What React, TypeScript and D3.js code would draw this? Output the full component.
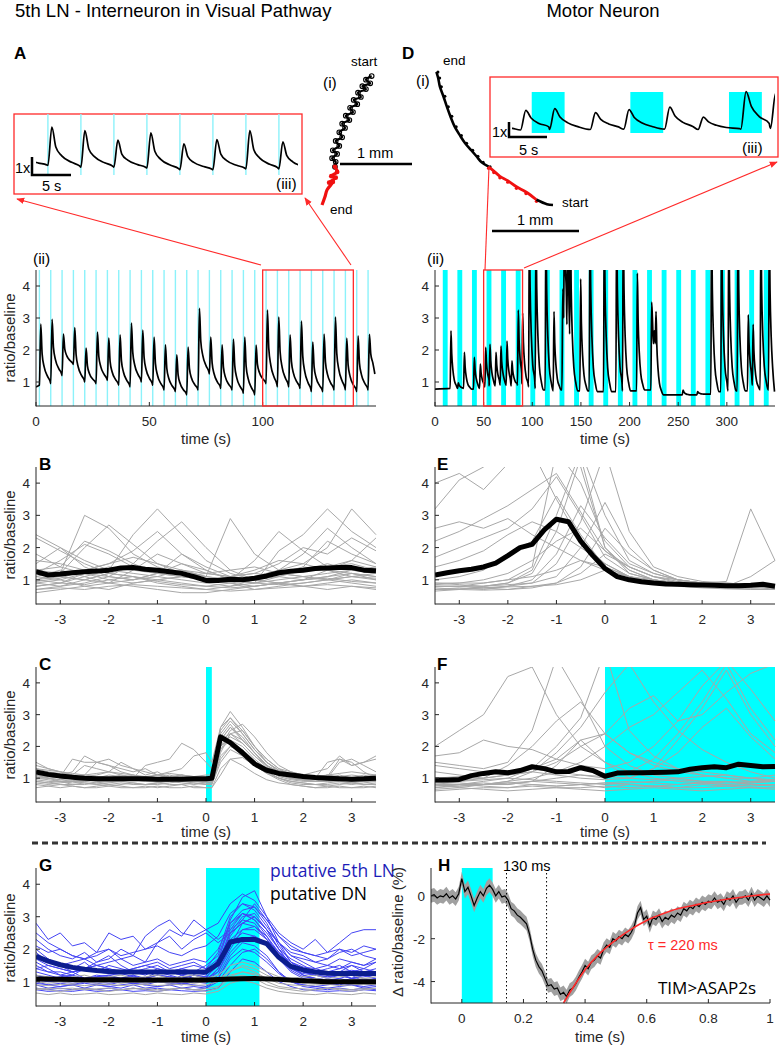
import React, { useEffect, useRef } from 'react';
import * as d3 from 'd3';

// ---------- panel A(ii): 5th LN long recording ----------
const stimTimesA = [1.5, 6.5, 11.5, 16.5, 21.5, 26.5, 31.5, 36.5, 41.5, 46.5, 51.5, 56.5, 61.5, 66.5, 71.5, 76.5, 81.5, 86.5, 91.5, 96.5, 101.5, 106.5, 111.5, 116.5, 121.5, 126.5, 131.5, 136.5, 141.5, 146.5];
const spikePeaksA = [2.81, 2.96, 2.5, 2.7, 2.06, 2.56, 2.37, 2.47, 2.84, 2.62, 2.4, 2.16, 1.85, 2.09, 3.3, 2.4, 2.16, 2.34, 2.4, 2.15, 3.25, 3.03, 2.47, 2.9, 2.25, 2.5, 3.03, 2.37, 2.44, 2.49];
const spikeBasesA = [0.9, 0.95, 1.2, 1.55, 1.0, 0.95, 1.05, 0.9, 0.85, 1.0, 0.9, 0.75, 0.7, 0.6, 0.75, 1.25, 0.8, 0.75, 0.65, 0.6, 0.95, 0.85, 0.85, 0.8, 0.7, 0.7, 0.75, 0.75, 0.7, 0.75];
const traceStartA: [number, number] = [0, 0.85];
const traceEndA: [number, number] = [149.5, 1.25];

// ---------- panel D(ii): motor neuron long recording ----------
const stimStartsD = [8, 23, 38, 53, 68, 83, 98, 113, 128, 143, 158, 173, 188, 203, 218, 233, 248, 263, 278, 293, 308, 323, 338];
const stimWidthD = 5;
const spikeTimesD = [16.4, 24, 30.2, 40.4, 46.6, 52.1, 56.5, 62.7, 67.8, 74, 79.1, 85.6, 90.1, 97, 103.8, 114, 122.3, 131.3, 133, 136.4, 139.2, 149.7, 159.3, 174, 186.7, 193.5, 208, 222.7, 225.3, 227.2, 255, 270, 284.3, 294.6, 302, 311.4, 322, 327, 335, 343.6];
const spikePeaksD = [2.6, 0.97, 1.93, 1.77, 1.56, 2.08, 2.18, 1.93, 2.12, 2.28, 1.66, 3.25, 3.15, 6, 6, 6, 3.2, 3.9, 6, 6, 6, 4.22, 6, 6, 6, 6, 4.4, 3.5, 2.6, 3.2, 0.75, 0.7, 6, 6, 6, 6, 3.1, 2.8, 6, 6];
const spikeBasesD = [0.8, 0.8, 0.8, 0.78, 0.8, 0.85, 0.88, 0.88, 0.9, 0.9, 0.88, 0.9, 0.95, 0.85, 0.8, 0.75, 0.72, 0.75, 3.0, 2.8, 2.5, 0.72, 0.72, 0.7, 0.7, 0.72, 0.72, 0.75, 2.2, 2.2, 0.6, 0.6, 0.62, 0.7, 0.72, 0.72, 0.72, 0.9, 0.75, 0.75];
const traceStartD: [number, number] = [0, 0.78];
const traceEndD: [number, number] = [349, 0.7];

// ---------- trajectories (mm) ----------
const pathA_black = [[0.69, 1.79], [0.61, 1.74], [0.67, 1.69], [0.56, 1.65], [0.61, 1.61], [0.5, 1.56], [0.54, 1.5], [0.44, 1.46], [0.49, 1.4], [0.39, 1.35], [0.43, 1.29], [0.33, 1.24], [0.38, 1.18], [0.28, 1.13], [0.32, 1.07], [0.24, 1.01], [0.28, 0.94], [0.19, 0.89], [0.24, 0.82], [0.15, 0.76], [0.21, 0.71], [0.14, 0.65], [0.19, 0.6], [0.18, 0.53]];
const pathA_red = [[0.18, 0.53], [0.21, 0.46], [0.13, 0.4], [0.19, 0.38], [0.1, 0.31], [0.15, 0.32], [0.07, 0.21], [0.04, 0.11], [0, 0]];
const pathD_black1 = [[-1.34, 1.53], [-1.32, 1.46], [-1.3, 1.36], [-1.26, 1.25], [-1.22, 1.13], [-1.18, 1.02], [-1.13, 0.9], [-1.07, 0.8], [-1.01, 0.71], [-0.94, 0.63], [-0.88, 0.56], [-0.82, 0.49], [-0.74, 0.44]];
const pathD_red = [[-0.74, 0.44], [-0.68, 0.39], [-0.61, 0.33], [-0.52, 0.28], [-0.42, 0.21], [-0.31, 0.15], [-0.19, 0.06]];
const pathD_black2 = [[-0.19, 0.06], [-0.07, 0.01], [0, 0]];

// ---------- triggered averages ----------
const tHalf = [-3.5, -3, -2.5, -2, -1.5, -1, -0.5, 0, 0.5, 1, 1.5, 2, 2.5, 3, 3.5];
const tQuarter = [-3.5, -3.25, -3, -2.75, -2.5, -2.25, -2, -1.75, -1.5, -1.25, -1, -0.75, -0.5, -0.25, 0, 0.25, 0.5, 0.75, 1, 1.25, 1.5, 1.75, 2, 2.25, 2.5, 2.75, 3, 3.25, 3.5];
const tC = [-3.5, -3.25, -3, -2.75, -2.5, -2.25, -2, -1.75, -1.5, -1.25, -1, -0.75, -0.5, -0.25, 0, 0.12, 0.3, 0.5, 0.75, 1, 1.25, 1.5, 1.75, 2, 2.25, 2.5, 2.75, 3, 3.25, 3.5];

const greyB = [
  [2.3, 1.9, 1.5, 1.2, 1.1, 1.0, 1.1, 1.0, 0.9, 1.0, 1.2, 1.4, 1.3, 1.2, 1.1],
  [1.0, 1.2, 3.0, 2.6, 1.8, 1.4, 1.2, 1.0, 0.9, 0.8, 0.9, 1.0, 1.3, 1.6, 1.4],
  [0.9, 0.8, 0.9, 1.1, 1.5, 2.2, 2.8, 2.0, 1.3, 1.0, 0.9, 0.8, 0.9, 1.0, 0.9],
  [1.5, 2.0, 1.6, 1.3, 2.4, 3.2, 2.4, 1.6, 1.2, 1.0, 1.1, 1.3, 1.5, 1.3, 1.2],
  [0.7, 0.8, 1.0, 1.2, 1.1, 0.9, 0.8, 0.7, 0.8, 1.0, 1.2, 1.1, 1.0, 0.9, 0.8],
  [1.2, 1.1, 1.0, 1.2, 1.4, 1.3, 1.2, 1.1, 2.9, 1.8, 1.3, 1.5, 2.0, 3.2, 2.4],
  [1.0, 0.9, 1.1, 1.3, 1.2, 1.1, 1.0, 0.9, 0.8, 0.9, 1.9, 2.4, 3.2, 2.5, 2.0],
  [0.6, 0.7, 0.8, 0.9, 0.8, 0.7, 0.6, 0.6, 0.7, 0.8, 0.9, 0.8, 0.7, 0.8, 0.7],
  [1.8, 1.4, 2.2, 1.9, 1.5, 1.2, 1.8, 1.4, 1.1, 1.2, 1.5, 2.0, 1.8, 2.3, 1.9],
  [0.8, 0.9, 1.2, 1.0, 0.9, 1.0, 1.1, 1.2, 1.1, 1.0, 0.9, 1.0, 1.1, 1.2, 1.0],
  [1.3, 1.2, 2.0, 2.7, 2.1, 1.5, 1.2, 1.0, 1.0, 1.6, 2.5, 1.9, 1.4, 1.6, 2.3],
  [0.9, 1.0, 0.8, 0.7, 0.9, 1.0, 0.9, 0.8, 0.9, 0.7, 0.8, 0.9, 1.0, 1.1, 1.2],
  [2.4, 2.0, 1.4, 1.1, 1.0, 1.2, 1.5, 1.3, 1.0, 0.9, 1.1, 1.4, 2.2, 1.8, 1.5],
  [1.1, 1.3, 1.1, 0.9, 1.3, 1.8, 1.5, 1.2, 1.3, 1.4, 1.2, 1.1, 1.2, 1.3, 1.4],
  [0.8, 0.9, 0.85, 1.0, 1.1, 0.95, 0.85, 0.8, 0.75, 0.8, 0.9, 1.0, 1.05, 0.95, 0.9],
  [1.1, 1.0, 1.2, 1.4, 1.3, 1.2, 1.1, 1.0, 0.95, 1.05, 1.15, 1.25, 1.4, 1.5, 1.3],
  [0.95, 1.05, 1.3, 1.5, 1.9, 2.5, 1.8, 1.3, 1.0, 0.9, 1.0, 1.1, 1.0, 1.2, 1.1],
  [1.3, 1.4, 1.2, 1.1, 1.0, 1.1, 1.3, 1.2, 1.1, 1.3, 1.6, 1.5, 1.3, 1.1, 1.0],
  [0.7, 0.75, 0.7, 0.8, 0.85, 0.8, 0.75, 0.7, 0.65, 0.7, 0.75, 0.8, 0.85, 0.8, 0.75],
  [1.6, 1.5, 1.3, 1.5, 1.7, 1.5, 1.3, 1.1, 1.0, 1.1, 1.3, 1.8, 2.6, 2.0, 1.5],
  [1.0, 1.1, 1.0, 0.9, 1.0, 1.2, 1.3, 1.1, 1.0, 0.9, 0.85, 0.9, 1.0, 1.1, 1.05],
  [1.2, 1.6, 2.1, 1.8, 1.4, 1.2, 1.1, 1.0, 1.1, 1.2, 1.1, 1.0, 1.1, 1.3, 1.2],
];
const meanB = [1.25, 1.15, 1.18, 1.22, 1.25, 1.27, 1.3, 1.37, 1.38, 1.33, 1.3, 1.25, 1.2, 1.1, 0.98, 0.98, 1.02, 1.0, 1.05, 1.12, 1.22, 1.27, 1.3, 1.35, 1.37, 1.38, 1.38, 1.3, 1.28];

const greyE = [
  [0.8, 0.8, 0.8, 0.9, 1.2, 2.5, 4.8, 2.0, 1.2, 1.0, 0.9, 0.9, 0.8, 0.8, 0.8],
  [4.0, 4.3, 3.8, 4.6, 5.0, 3.5, 2.2, 1.5, 1.1, 0.9, 0.9, 0.8, 0.8, 0.8, 0.7],
  [3.2, 4.1, 4.5, 5, 5, 5, 4.0, 2.2, 1.4, 1.1, 0.95, 0.9, 0.85, 0.8, 0.8],
  [2.6, 2.8, 2.6, 2.9, 2.4, 2.0, 1.6, 1.3, 1.1, 0.95, 0.9, 0.85, 0.8, 0.8, 0.75],
  [0.7, 0.7, 0.8, 0.9, 1.3, 3.0, 5, 3.0, 1.6, 1.2, 1.0, 0.9, 0.85, 0.8, 0.8],
  [1.7, 2.0, 2.3, 2.6, 3.2, 4.2, 3.0, 1.7, 1.2, 1.0, 0.9, 0.85, 0.8, 0.8, 0.8],
  [0.8, 0.8, 0.75, 0.8, 1.0, 1.8, 3.3, 2.3, 1.5, 1.2, 1.0, 0.9, 0.8, 0.8, 0.75],
  [0.9, 0.9, 1.0, 1.2, 1.6, 2.2, 2.6, 1.9, 1.4, 1.1, 1.0, 0.9, 0.9, 0.85, 0.8],
  [0.7, 0.75, 0.7, 0.8, 0.9, 1.5, 2.8, 5, 2.5, 1.4, 1.1, 0.95, 0.9, 0.85, 0.8],
  [1.4, 1.6, 1.9, 2.4, 2.8, 2.5, 2.0, 1.5, 1.1, 0.9, 0.85, 0.8, 0.8, 0.8, 0.75],
  [0.8, 0.8, 0.9, 1.0, 1.4, 5, 4.5, 2.0, 1.3, 1.0, 0.9, 0.85, 0.8, 1.1, 1.6],
  [0.75, 0.7, 0.75, 0.7, 0.8, 0.9, 1.4, 2.6, 1.8, 1.3, 1.0, 0.9, 0.8, 0.8, 0.8],
  [1.0, 1.1, 1.3, 1.8, 2.2, 3.6, 2.4, 1.4, 1.1, 0.95, 0.9, 0.85, 0.8, 0.75, 0.75],
  [0.85, 0.9, 0.9, 1.0, 1.1, 1.3, 1.6, 1.4, 1.1, 1.0, 0.9, 0.9, 0.95, 3.2, 1.6],
  [0.7, 0.72, 0.75, 0.78, 0.8, 0.85, 1.0, 1.3, 1.1, 0.9, 0.8, 0.75, 0.72, 0.7, 0.7],
  [0.9, 0.85, 0.8, 0.85, 0.9, 1.1, 2.0, 3.4, 2.0, 1.3, 1.0, 0.9, 0.85, 0.8, 0.75],
  [0.65, 0.7, 0.68, 0.7, 0.75, 0.9, 1.2, 1.8, 1.4, 1.1, 0.9, 0.8, 0.75, 0.72, 0.7],
  [2.2, 2.5, 2.9, 3.3, 3.8, 4.3, 3.1, 1.9, 1.3, 1.0, 0.9, 0.85, 0.8, 0.8, 0.78],
];
const meanE = [1.15, 1.22, 1.28, 1.33, 1.4, 1.52, 1.75, 2.0, 2.1, 2.55, 2.88, 2.8, 2.2, 1.75, 1.35, 1.1, 1.0, 0.94, 0.9, 0.87, 0.86, 0.85, 0.84, 0.83, 0.82, 0.82, 0.83, 0.86, 0.8];

const greyC = [
  [1.4, 1.3, 1.2, 1.1, 1.0, 1.0, 0.9, 1.0, 1.1, 1.0, 0.9, 1.0, 1.0, 1.0, 0.95, 0.95, 2.6, 3.1, 2.6, 2.0, 1.6, 1.3, 1.1, 1.0, 1.0, 1.1, 1.0, 0.9, 1.0, 1.1],
  [1.1, 1.0, 1.05, 1.6, 1.5, 1.5, 1.4, 1.2, 1.1, 1.0, 1.0, 1.1, 1.0, 0.95, 0.9, 0.95, 2.2, 2.6, 2.3, 1.8, 1.4, 1.2, 1.0, 0.95, 0.9, 1.0, 1.5, 1.6, 1.4, 1.2],
  [0.9, 0.85, 0.8, 0.8, 0.85, 0.8, 0.75, 0.8, 0.85, 0.8, 0.8, 0.85, 0.9, 0.85, 0.8, 0.8, 1.7, 2.0, 1.8, 1.5, 1.2, 1.0, 0.85, 0.8, 0.8, 0.75, 0.8, 0.85, 0.8, 0.8],
  [1.2, 1.1, 1.0, 1.0, 1.1, 1.5, 1.4, 1.3, 1.2, 1.3, 1.1, 1.2, 1.3, 1.7, 1.8, 1.5, 2.6, 2.9, 2.5, 2.0, 1.6, 1.3, 1.2, 1.1, 1.0, 1.0, 1.1, 1.0, 1.0, 1.0],
  [1.0, 0.95, 0.9, 0.9, 0.95, 1.0, 1.1, 1.05, 1.0, 1.4, 1.5, 1.6, 2.1, 1.9, 1.5, 1.3, 2.2, 2.4, 2.1, 1.7, 1.4, 1.15, 1.0, 0.95, 1.0, 1.05, 1.6, 1.5, 1.2, 1.0],
  [0.8, 0.75, 0.7, 0.75, 0.7, 0.7, 0.75, 0.7, 0.7, 0.75, 0.7, 0.75, 0.8, 0.7, 0.7, 0.7, 1.3, 1.6, 1.65, 1.4, 1.15, 0.95, 0.8, 0.75, 0.7, 0.7, 0.75, 0.7, 0.7, 0.75],
  [1.5, 1.3, 1.2, 1.1, 1.4, 1.3, 1.2, 1.5, 1.3, 1.1, 1.2, 1.0, 1.1, 1.0, 1.0, 1.0, 2.4, 2.8, 2.4, 1.9, 1.5, 1.25, 1.15, 1.1, 1.2, 1.3, 1.7, 1.4, 1.5, 1.6],
  [1.0, 1.0, 0.95, 0.9, 0.9, 0.85, 0.9, 0.9, 0.95, 0.9, 0.9, 0.95, 0.9, 0.9, 0.85, 0.85, 1.9, 2.2, 2.0, 1.6, 1.3, 1.05, 0.95, 0.9, 0.9, 0.9, 0.95, 0.9, 0.9, 0.95],
  [1.3, 1.2, 1.15, 1.1, 1.1, 1.05, 1.0, 1.1, 1.0, 1.05, 1.0, 1.0, 0.95, 1.0, 1.0, 1.0, 2.3, 2.7, 2.2, 1.8, 1.4, 1.2, 1.1, 1.05, 1.0, 1.0, 1.05, 1.1, 1.05, 1.1],
  [0.9, 0.85, 0.9, 0.8, 0.8, 0.85, 0.8, 0.85, 0.8, 0.8, 0.85, 0.8, 0.8, 0.85, 0.8, 0.8, 1.5, 1.9, 1.7, 1.4, 1.15, 1.0, 0.9, 0.85, 0.8, 0.8, 0.85, 0.8, 0.85, 0.9],
  [1.1, 1.05, 1.1, 1.0, 1.05, 1.1, 1.2, 1.1, 1.05, 1.0, 1.1, 1.0, 1.1, 1.05, 1.0, 1.0, 2.2, 2.6, 2.2, 1.8, 1.4, 1.2, 1.1, 1.05, 1.0, 1.1, 1.05, 1.0, 1.1, 1.0],
  [1.2, 1.0, 0.9, 0.85, 0.9, 0.95, 1.0, 0.9, 1.0, 0.95, 0.9, 1.0, 0.95, 0.9, 0.9, 0.9, 1.8, 2.4, 2.5, 2.0, 1.5, 1.2, 1.05, 0.95, 0.9, 0.9, 0.9, 0.85, 0.9, 0.9],
  [1.0, 1.1, 1.1, 1.2, 1.7, 1.5, 1.6, 1.4, 1.3, 1.2, 1.1, 1.05, 1.1, 1.0, 1.0, 1.0, 2.0, 2.5, 2.7, 2.3, 1.8, 1.4, 1.2, 1.1, 1.0, 1.5, 1.6, 1.4, 1.5, 1.7],
  [0.7, 0.75, 0.8, 0.75, 0.7, 0.75, 0.8, 0.75, 0.7, 0.7, 0.75, 0.7, 0.7, 0.75, 0.7, 0.7, 1.1, 1.6, 1.4, 1.15, 0.95, 0.85, 0.8, 0.75, 0.7, 0.75, 0.7, 0.7, 0.75, 0.7],
  [1.05, 1.0, 0.95, 1.0, 1.05, 1.0, 0.95, 1.0, 1.05, 1.0, 0.95, 1.0, 1.05, 1.0, 0.95, 0.95, 2.0, 2.3, 2.1, 1.7, 1.35, 1.15, 1.05, 1.0, 0.95, 1.0, 1.05, 1.0, 0.95, 1.0],
  [0.85, 0.8, 0.85, 0.9, 0.85, 0.8, 0.85, 0.9, 0.85, 0.8, 0.85, 0.9, 0.85, 0.8, 0.85, 0.85, 1.6, 2.0, 1.9, 1.55, 1.2, 1.0, 0.9, 0.85, 0.8, 0.85, 0.9, 0.85, 0.8, 0.85],
  [1.3, 1.25, 1.2, 1.15, 1.1, 1.15, 1.2, 1.15, 1.1, 1.05, 1.1, 1.15, 1.1, 1.05, 1.1, 1.1, 2.5, 2.9, 2.4, 1.9, 1.5, 1.25, 1.15, 1.1, 1.05, 1.1, 1.15, 1.2, 1.15, 1.1],
  [0.95, 0.9, 0.88, 0.92, 0.95, 0.9, 0.88, 0.92, 0.95, 0.9, 0.88, 0.92, 0.95, 0.9, 0.88, 0.88, 1.9, 2.4, 2.2, 1.8, 1.4, 1.1, 0.98, 0.93, 0.9, 0.92, 0.95, 0.9, 0.92, 0.95],
];
const meanC = [1.2, 1.12, 1.07, 1.03, 1.0, 0.98, 0.98, 0.98, 0.98, 0.98, 0.97, 0.97, 0.97, 0.98, 0.98, 1.0, 2.3, 2.12, 1.8, 1.45, 1.25, 1.15, 1.1, 1.05, 1.02, 1.0, 0.98, 0.97, 0.98, 1.0];
const stimC = [0, 0.12];

const greyF = [
  [2.0, 2.5, 3.0, 4.2, 4.5, 3.0, 2.0, 1.5, 1.2, 1.0, 0.9, 0.85, 0.8, 0.85, 0.9],
  [1.5, 1.4, 1.3, 1.5, 2.5, 4.8, 3.5, 2.0, 1.4, 1.1, 1.0, 0.9, 0.9, 0.8, 0.8],
  [0.8, 0.8, 0.9, 1.0, 1.3, 2.0, 2.9, 5, 2.5, 1.7, 1.3, 1.1, 1.0, 0.9, 0.9],
  [0.9, 0.9, 1.0, 1.4, 2.0, 2.8, 3.4, 2.4, 1.8, 1.5, 1.3, 1.2, 1.1, 1.0, 0.9],
  [1.2, 1.1, 1.0, 1.1, 1.3, 1.6, 2.2, 2.4, 3.2, 3.6, 2.8, 3.0, 3.7, 4.3, 4.6],
  [0.7, 0.8, 0.8, 0.9, 1.0, 1.2, 1.5, 2.0, 2.6, 3.0, 3.7, 4.4, 3.5, 2.4, 1.8],
  [0.8, 0.7, 0.8, 0.8, 0.9, 1.0, 1.1, 1.0, 1.2, 1.6, 2.4, 3.4, 4.6, 3.2, 2.2],
  [1.7, 1.8, 2.2, 2.0, 1.9, 1.6, 1.4, 1.3, 1.5, 2.0, 2.8, 3.9, 4.7, 3.8, 2.8],
  [0.6, 0.65, 0.7, 0.7, 0.75, 0.7, 0.7, 0.75, 0.7, 0.75, 0.7, 0.7, 0.75, 0.7, 0.7],
  [0.9, 0.85, 0.8, 0.85, 0.9, 0.85, 0.8, 0.85, 0.9, 0.85, 0.8, 0.85, 0.9, 0.85, 0.9],
  [0.75, 0.8, 0.75, 0.7, 0.8, 0.75, 0.8, 0.7, 0.8, 0.75, 0.7, 0.8, 0.75, 0.8, 0.75],
  [1.0, 0.95, 1.0, 1.1, 1.2, 1.1, 1.0, 0.95, 1.0, 1.3, 1.8, 2.6, 3.2, 2.3, 1.6],
  [0.7, 0.75, 0.8, 0.9, 1.2, 1.8, 2.6, 3.7, 4.6, 3.4, 2.5, 1.9, 1.5, 1.2, 1.0],
  [0.85, 0.8, 0.85, 0.8, 0.9, 1.4, 2.2, 1.5, 1.0, 1.3, 2.2, 3.2, 4.4, 3.0, 2.0],
  [0.85, 0.9, 0.95, 1.0, 0.95, 0.9, 0.85, 0.8, 0.85, 0.9, 0.95, 0.9, 0.85, 0.9, 0.95],
  [0.65, 0.7, 0.65, 0.6, 0.65, 0.7, 0.65, 0.6, 0.65, 0.7, 0.65, 0.6, 0.65, 0.7, 0.65],
  [1.0, 1.05, 1.1, 1.2, 1.3, 1.2, 1.1, 1.05, 1.0, 0.95, 1.0, 1.05, 1.1, 1.0, 0.95],
  [0.78, 0.75, 0.8, 0.85, 0.8, 0.75, 0.8, 0.85, 0.8, 0.75, 0.8, 0.85, 0.8, 0.75, 0.8],
  [1.4, 1.3, 1.2, 1.1, 1.2, 1.5, 2.0, 2.4, 1.8, 1.4, 1.2, 1.1, 1.0, 1.0, 1.1],
];
const meanF = [0.94, 0.94, 0.96, 1.08, 1.15, 1.2, 1.17, 1.24, 1.36, 1.3, 1.2, 1.21, 1.33, 1.24, 1.06, 1.16, 1.17, 1.17, 1.18, 1.19, 1.2, 1.28, 1.33, 1.36, 1.33, 1.44, 1.4, 1.36, 1.37];
const stimF = [0, 3.5];

const blueG = [
  [2.8, 2.3, 2.5, 2.1, 2.2, 1.9, 2.5, 2.3, 2.4, 2.0, 2.2, 2.6, 2.4, 2.9, 2.6, 2.8, 3.4, 3.7, 3.5, 3.0, 2.5, 2.2, 2.0, 2.3, 1.9, 2.2, 2.5, 2.6, 2.6],
  [1.3, 1.2, 1.1, 1.2, 1.0, 1.1, 1.0, 1.1, 1.2, 1.0, 1.1, 1.0, 1.2, 1.1, 1.0, 1.4, 2.4, 2.9, 2.8, 2.3, 1.8, 1.4, 1.2, 1.1, 1.0, 1.1, 1.2, 1.0, 1.1],
  [2.0, 1.7, 1.5, 1.4, 1.6, 1.3, 1.5, 1.4, 1.3, 1.4, 1.5, 1.3, 1.4, 1.3, 1.5, 1.8, 2.8, 3.2, 3.3, 2.8, 2.1, 1.6, 1.4, 1.3, 1.4, 1.5, 1.3, 1.4, 1.6],
  [0.9, 0.8, 0.85, 0.9, 0.8, 0.9, 0.85, 0.8, 0.9, 0.8, 0.85, 0.9, 0.8, 0.85, 0.8, 1.1, 1.8, 2.2, 2.1, 1.8, 1.3, 1.0, 0.9, 0.85, 0.8, 0.85, 0.9, 0.8, 0.85],
  [1.6, 1.4, 1.2, 1.3, 1.1, 1.2, 1.15, 1.1, 1.2, 1.1, 1.3, 1.2, 1.1, 1.2, 1.15, 1.5, 2.5, 3.0, 3.1, 2.6, 2.0, 1.5, 1.3, 1.2, 1.1, 1.2, 1.1, 1.2, 1.1],
  [1.1, 1.0, 1.0, 0.95, 1.0, 1.0, 0.95, 1.0, 1.0, 0.95, 1.0, 1.0, 0.95, 1.0, 1.0, 1.3, 2.0, 2.6, 2.7, 2.4, 1.9, 1.5, 1.2, 1.05, 1.0, 1.0, 0.95, 1.0, 1.0],
  [2.3, 2.0, 1.8, 1.7, 1.9, 1.6, 1.7, 2.0, 1.8, 1.6, 2.2, 2.4, 2.0, 2.3, 2.5, 2.2, 2.5, 2.8, 3.0, 2.6, 2.2, 1.9, 1.8, 1.6, 1.7, 1.9, 2.0, 1.8, 1.7],
  [1.4, 1.3, 1.2, 1.15, 1.1, 1.15, 1.2, 1.1, 1.15, 1.1, 1.2, 1.15, 1.1, 1.2, 1.1, 1.6, 2.9, 3.6, 3.8, 3.0, 2.2, 1.6, 1.3, 1.2, 1.15, 1.2, 1.1, 1.2, 1.3],
  [0.8, 0.75, 0.8, 0.75, 0.8, 0.75, 0.8, 0.75, 0.8, 0.75, 0.8, 0.75, 0.8, 0.75, 0.8, 1.0, 1.5, 1.9, 2.0, 1.7, 1.3, 1.0, 0.85, 0.8, 0.75, 0.8, 0.75, 0.8, 0.75],
  [1.9, 1.6, 1.5, 1.3, 1.4, 1.5, 1.4, 1.3, 1.4, 1.5, 1.6, 1.4, 1.5, 1.6, 1.4, 1.9, 3.0, 3.4, 3.2, 2.7, 2.2, 1.8, 1.6, 1.4, 1.5, 1.4, 1.6, 1.5, 1.6],
  [1.2, 1.1, 1.05, 1.0, 1.1, 1.0, 1.05, 1.1, 1.0, 1.05, 1.1, 1.0, 1.05, 1.1, 1.05, 1.4, 2.2, 2.5, 2.4, 2.1, 1.7, 1.35, 1.15, 1.1, 1.05, 1.1, 1.0, 1.05, 1.1],
  [1.5, 1.3, 1.3, 1.2, 1.4, 1.6, 1.8, 1.5, 1.3, 1.2, 1.4, 1.3, 1.2, 1.3, 1.2, 1.7, 2.7, 3.1, 2.9, 2.5, 2.0, 1.7, 1.5, 1.3, 1.2, 1.3, 1.5, 1.3, 1.4],
  [1.0, 0.9, 0.95, 0.9, 1.0, 0.95, 0.9, 1.0, 0.95, 0.9, 1.0, 0.95, 0.9, 1.0, 0.95, 1.2, 1.9, 2.3, 2.4, 2.2, 1.7, 1.3, 1.1, 1.0, 0.95, 0.9, 1.0, 0.95, 1.0],
  [2.5, 2.2, 2.0, 1.8, 1.7, 1.8, 2.0, 1.7, 1.8, 2.4, 2.7, 2.9, 2.5, 2.4, 2.6, 2.3, 2.6, 2.9, 3.4, 2.9, 2.4, 2.0, 1.9, 1.8, 1.7, 2.0, 1.9, 2.1, 2.0],
  [1.7, 1.5, 1.4, 1.3, 1.35, 1.3, 1.25, 1.3, 1.35, 1.3, 1.25, 1.3, 1.2, 1.3, 1.25, 1.6, 2.5, 2.8, 2.7, 2.3, 1.9, 1.5, 1.35, 1.3, 1.25, 1.3, 1.35, 1.3, 1.25],
  [0.75, 0.7, 0.72, 0.7, 0.75, 0.7, 0.72, 0.75, 0.7, 0.72, 0.7, 0.75, 0.72, 0.7, 0.72, 0.8, 1.3, 1.7, 1.6, 1.3, 1.0, 0.85, 0.75, 0.72, 0.7, 0.72, 0.7, 0.75, 0.72],
  [1.2, 1.1, 1.15, 1.2, 1.1, 1.15, 1.2, 1.25, 1.15, 1.1, 1.2, 1.15, 1.1, 1.2, 1.15, 1.5, 2.6, 3.1, 2.9, 2.4, 1.8, 1.4, 1.25, 1.2, 1.15, 1.2, 1.1, 1.15, 1.2],
  [1.8, 1.6, 1.5, 1.6, 1.7, 1.5, 1.6, 1.7, 1.5, 1.6, 1.7, 1.5, 1.6, 1.7, 1.6, 2.0, 2.8, 3.1, 3.0, 2.6, 2.2, 1.8, 1.7, 1.6, 1.5, 1.7, 1.6, 1.5, 1.7],
  [0.95, 0.9, 0.85, 0.9, 0.95, 0.9, 0.85, 0.9, 0.95, 0.9, 0.85, 0.9, 0.95, 0.9, 0.85, 1.1, 1.7, 2.0, 1.9, 1.6, 1.25, 1.0, 0.9, 0.85, 0.9, 0.95, 0.9, 0.85, 0.9],
  [1.4, 1.5, 1.4, 1.3, 1.4, 1.5, 1.4, 1.3, 1.4, 1.5, 1.4, 1.3, 1.4, 1.5, 1.4, 1.7, 2.3, 2.6, 2.6, 2.3, 1.9, 1.6, 1.45, 1.4, 1.3, 1.4, 1.5, 1.4, 1.3],
  [2.1, 1.9, 2.0, 1.8, 1.7, 1.9, 2.0, 1.8, 1.9, 2.0, 2.1, 1.9, 1.8, 2.0, 2.1, 2.4, 3.1, 3.4, 3.3, 2.9, 2.4, 2.1, 1.9, 1.8, 1.9, 2.0, 1.8, 1.9, 2.0],
  [1.05, 1.0, 1.1, 1.05, 1.0, 1.1, 1.05, 1.0, 1.1, 1.05, 1.0, 1.1, 1.05, 1.0, 1.1, 1.3, 2.1, 2.8, 3.0, 2.6, 2.0, 1.5, 1.2, 1.1, 1.05, 1.0, 1.1, 1.05, 1.0],
];
const greyG = [
  [1.0, 0.95, 1.0, 0.95, 1.0, 0.95, 1.0, 0.95, 1.0, 0.95, 1.0, 0.95, 1.0, 0.95, 1.0, 1.1, 1.3, 1.5, 1.4, 1.2, 1.05, 1.0, 0.95, 1.0, 0.95, 1.0, 0.95, 1.0, 0.95],
  [0.8, 0.75, 0.7, 0.75, 0.8, 0.75, 0.7, 0.75, 0.8, 0.75, 0.7, 0.75, 0.8, 0.75, 0.7, 0.8, 1.1, 1.2, 1.1, 0.9, 0.8, 0.75, 0.7, 0.75, 0.8, 0.75, 0.7, 0.75, 0.8],
  [1.2, 1.15, 1.1, 1.15, 1.2, 1.1, 1.15, 1.2, 1.1, 1.15, 1.2, 1.1, 1.15, 1.2, 1.1, 1.2, 1.5, 1.6, 1.5, 1.3, 1.15, 1.1, 1.15, 1.2, 1.1, 1.15, 1.2, 1.1, 1.15],
  [0.65, 0.6, 0.65, 0.6, 0.62, 0.65, 0.6, 0.62, 0.65, 0.6, 0.65, 0.62, 0.6, 0.65, 0.62, 0.7, 0.95, 1.05, 0.95, 0.8, 0.7, 0.65, 0.62, 0.6, 0.65, 0.62, 0.6, 0.65, 0.62],
  [0.9, 0.88, 0.92, 0.9, 0.88, 0.9, 0.92, 0.88, 0.9, 0.92, 0.88, 0.9, 0.92, 0.88, 0.9, 1.0, 1.35, 1.45, 1.3, 1.1, 0.95, 0.9, 0.88, 0.9, 0.92, 0.88, 0.9, 0.92, 0.9],
  [1.1, 1.05, 1.0, 1.05, 1.1, 1.05, 1.0, 1.05, 1.1, 1.05, 1.0, 1.05, 1.1, 1.05, 1.0, 1.05, 1.2, 1.3, 1.25, 1.1, 1.05, 1.0, 1.05, 1.1, 1.05, 1.0, 1.05, 1.1, 1.05],
  [0.75, 0.8, 0.78, 0.8, 0.75, 0.78, 0.8, 0.75, 0.78, 0.8, 0.75, 0.78, 0.8, 0.75, 0.78, 0.85, 1.15, 1.3, 1.2, 1.0, 0.85, 0.8, 0.78, 0.75, 0.8, 0.78, 0.75, 0.8, 0.78],
];
const meanBlueG = [1.78, 1.63, 1.52, 1.44, 1.38, 1.34, 1.31, 1.3, 1.3, 1.3, 1.3, 1.3, 1.3, 1.3, 1.3, 1.55, 2.22, 2.3, 2.3, 2.17, 1.75, 1.47, 1.36, 1.3, 1.26, 1.25, 1.25, 1.25, 1.25];
const meanDNG = [1.08, 1.07, 1.06, 1.06, 1.05, 1.05, 1.05, 1.05, 1.08, 1.1, 1.07, 1.03, 1.0, 1.0, 1.0];
const stimG = [0, 1.1];

// ---------- panel H ----------
const hStart = -0.1;
const hStep = 0.01;
const meanH = [0.0, 0.05, -0.1, 0.0, -0.05, 0.1, -0.1, 0.0, -0.15, 0.1, 0.8, 0.2, 0.4, 0.0, -0.45, -0.1, 0.2, 0.0, 0.35, 0.5, 0.3, 0.0, 0.2, -0.05, 0.0, -0.2, -0.6, -0.7, -0.9, -1.0, -1.15, -1.3, -1.8, -2.5, -3.0, -3.3, -3.5, -3.85, -4.2, -4.15, -4.35, -4.3, -4.6, -4.5, -4.7, -4.4, -4.3, -4.1, -3.8, -3.55, -3.25, -3.4, -3.1, -3.0, -2.8, -2.9, -2.5, -2.3, -2.4, -2.0, -2.1, -1.9, -2.0, -1.8, -1.9, -1.7, -1.4, -0.8, -0.55, -1.1, -0.95, -1.4, -1.0, -1.1, -0.9, -1.2, -1.0, -1.1, -0.9, -1.0, -0.8, -0.9, -0.6, -0.7, -0.5, -0.6, -0.4, -0.5, -0.3, -0.4, -0.25, -0.3, -0.1, -0.3, -0.2, -0.4, -0.1, -0.2, 0.0, -0.3, -0.1, -0.1, 0.0, -0.2, 0.1, -0.2, 0.0, -0.1, -0.2, 0.0, -0.2];
const semH = 0.32;
const fitH = [[0.33, -5.0], [0.36, -4.3], [0.4, -3.45], [0.45, -2.65], [0.5, -2.05], [0.55, -1.55], [0.6, -1.15], [0.65, -0.85], [0.7, -0.6], [0.75, -0.45], [0.8, -0.3], [0.85, -0.18], [0.9, -0.08], [0.95, 0.02], [1.0, 0.08]];
const stimH = [0, 0.1];
const dottedH = [0.145, 0.275];

const FONT = "'Liberation Sans', Arial, Helvetica, sans-serif";
const SANS2 = "'Open Sans', 'Noto Sans', sans-serif";
const AXIS = '#262626';
const CYAN = '#00ffff';
const GREY = '#a8a8a8';
const RED = '#ff2a2a';

// spike shape offsets: [seconds from peak, fraction of peak height]
const riseA = -0.6;
const decayA = [[0.6, 0.5], [1.5, 0.28], [3, 0.12], [4.2, 0.03]];
const riseD = -0.8;
const decayD = [[0.8, 0.6], [2, 0.32], [3.5, 0.14], [5.5, 0.05], [7.5, 0]];

function buildTrace(times: number[], peaks: number[], bases: number[], rise: number, decay: number[][], start: number[], end: number[]) {
  const pts: number[][] = [start];
  times.forEach((t, i) => {
    const nextBase = i + 1 < times.length ? bases[i + 1] : end[1];
    const limit = i + 1 < times.length ? times[i + 1] + rise : end[0];
    pts.push([t + rise, bases[i]]);
    pts.push([t, peaks[i]]);
    decay.forEach(([dt, f]) => {
      if (t + dt < limit) pts.push([t + dt, nextBase + f * (peaks[i] - nextBase)]);
    });
  });
  pts.push(end);
  return pts;
}

const App = () => {
  const svgRef = useRef<SVGSVGElement>(null);

  useEffect(() => {
    const svg = d3.select(svgRef.current);
    svg.selectAll('*').remove();
    svg.attr('font-family', FONT);
    const defs = svg.append('defs');

    defs.append('marker')
      .attr('id', 'arrowRed')
      .attr('viewBox', '0 0 10 10')
      .attr('refX', 9).attr('refY', 5)
      .attr('markerWidth', 8).attr('markerHeight', 8)
      .attr('markerUnits', 'userSpaceOnUse')
      .attr('orient', 'auto')
      .append('path').attr('d', 'M0,1 L10,5 L0,9 Z').attr('fill', RED);

    let clipN = 0;
    const clipRect = (x: number, y: number, w: number, h: number) => {
      const id = 'clip' + clipN++;
      defs.append('clipPath').attr('id', id).append('rect')
        .attr('x', x).attr('y', y).attr('width', w).attr('height', h);
      return `url(#${id})`;
    };

    const text = (x: number, y: number, s: string, size = 14, extra: any = {}) => {
      const t = svg.append('text').attr('x', x).attr('y', y).attr('font-size', size)
        .attr('fill', extra.fill || '#000').text(s);
      if (extra.anchor) t.attr('text-anchor', extra.anchor);
      if (extra.weight) t.attr('font-weight', extra.weight);
      if (extra.family) t.attr('font-family', extra.family);
      return t;
    };

    const drawAxes = (x: any, y: any, xTicks: number[], yTicks: number[], fmt = (v: number) => String(v)) => {
      const [x0, x1] = x.range();
      const [yb, yt] = y.range();
      const g = svg.append('g').attr('stroke', AXIS).attr('stroke-width', 1);
      g.append('line').attr('x1', x0).attr('x2', x0).attr('y1', yt).attr('y2', yb + 0.5);
      g.append('line').attr('x1', x0).attr('x2', x1).attr('y1', yb).attr('y2', yb);
      xTicks.forEach(v => {
        g.append('line').attr('x1', x(v)).attr('x2', x(v)).attr('y1', yb).attr('y2', yb - 4);
        text(x(v), yb + 20, fmt(v), 13.5, { anchor: 'middle', fill: AXIS });
      });
      yTicks.forEach(v => {
        g.append('line').attr('x1', x0).attr('x2', x0 + 4).attr('y1', y(v)).attr('y2', y(v));
        text(x0 - 6, y(v) + 5, fmt(v), 13.5, { anchor: 'end', fill: AXIS });
      });
    };

    const yLabel = (x: number, y: number, s: string, size = 15) => {
      svg.append('text').attr('transform', `translate(${x},${y}) rotate(-90)`)
        .attr('text-anchor', 'middle').attr('font-size', size).attr('fill', AXIS).text(s);
    };

    // ----- titles -----
    text(15, 17, '5th LN - Interneuron in Visual Pathway', 18.5);
    text(603, 17, 'Motor Neuron', 18.5, { anchor: 'middle' });
    text(14, 59, 'A', 17, { weight: 'bold' });
    text(402, 59, 'D', 17, { weight: 'bold' });

    // ----- long recordings (ii) -----
    const yRec = d3.scaleLinear().domain([0.25, 4.5]).range([406, 270]);
    const xA2 = d3.scaleLinear().domain([0, 150]).range([36, 376]);
    const xD2 = d3.scaleLinear().domain([0, 349.5]).range([435, 775]);
    const traceA = buildTrace(stimTimesA.map(s => s + 0.6), spikePeaksA, spikeBasesA, riseA, decayA, traceStartA, traceEndA);
    const traceD = buildTrace(spikeTimesD, spikePeaksD, spikeBasesD, riseD, decayD, traceStartD, traceEndD);

    // A(ii)
    svg.append('g').selectAll('line').data(stimTimesA).join('line')
      .attr('x1', d => xA2(d)).attr('x2', d => xA2(d)).attr('y1', 270).attr('y2', 406)
      .attr('stroke', '#8cf2fa').attr('stroke-width', 1.4);
    const lineA2 = d3.line<number[]>().x(d => xA2(d[0])).y(d => yRec(d[1])).curve(d3.curveMonotoneX);
    svg.append('path').attr('d', lineA2(traceA)).attr('fill', 'none').attr('stroke', '#000')
      .attr('stroke-width', 1.7).attr('clip-path', clipRect(36, 270, 341, 137));
    drawAxes(xA2, yRec, [0, 50, 100], [1, 2, 3, 4]);
    svg.append('rect').attr('x', xA2(100)).attr('y', 270).attr('width', xA2(140) - xA2(100)).attr('height', 136)
      .attr('fill', 'none').attr('stroke', RED).attr('stroke-width', 1.3);
    text(33, 264, '(ii)', 15.5);
    yLabel(15, 338, 'ratio/baseline');
    text(206, 444, 'time (s)', 15, { anchor: 'middle', fill: AXIS });

    // D(ii)
    svg.append('g').selectAll('rect').data(stimStartsD).join('rect')
      .attr('x', d => xD2(d)).attr('y', 270).attr('width', d => xD2(d + stimWidthD) - xD2(d)).attr('height', 136)
      .attr('fill', CYAN);
    const lineD2 = d3.line<number[]>().x(d => xD2(d[0])).y(d => yRec(d[1])).curve(d3.curveMonotoneX);
    svg.append('path').attr('d', lineD2(traceD)).attr('fill', 'none').attr('stroke', '#000')
      .attr('stroke-width', 1.7).attr('clip-path', clipRect(435, 270, 341, 137));
    drawAxes(xD2, yRec, [0, 50, 100, 150, 200, 250, 300], [1, 2, 3, 4]);
    svg.append('rect').attr('x', xD2(50)).attr('y', 270).attr('width', xD2(90) - xD2(50)).attr('height', 136)
      .attr('fill', 'none').attr('stroke', RED).attr('stroke-width', 1.3);
    text(427, 264, '(ii)', 15.5);
    text(605, 444, 'time (s)', 15, { anchor: 'middle', fill: AXIS });

    // ----- insets (iii) -----
    // A inset
    svg.append('rect').attr('x', 14).attr('y', 114).attr('width', 288).attr('height', 80)
      .attr('fill', 'none').attr('stroke', RED).attr('stroke-width', 1.3);
    const xA3 = d3.scaleLinear().domain([100, 140]).range([38, 302]);
    const yA3 = d3.scaleLinear().domain([0.8, 3.25]).range([168, 127]);
    svg.append('g').selectAll('line').data(stimTimesA.filter(s => s > 100 && s < 140)).join('line')
      .attr('x1', d => xA3(d)).attr('x2', d => xA3(d)).attr('y1', 114).attr('y2', 175)
      .attr('stroke', '#8cf2fa').attr('stroke-width', 1.4);
    const lineA3 = d3.line<number[]>().x(d => xA3(d[0])).y(d => yA3(d[1])).curve(d3.curveMonotoneX);
    svg.append('path').attr('d', lineA3(traceA)).attr('fill', 'none').attr('stroke', '#000')
      .attr('stroke-width', 1.7).attr('clip-path', clipRect(36, 115, 262, 78));
    svg.append('path').attr('d', 'M32,157 L32,175 L71,175').attr('fill', 'none').attr('stroke', '#000').attr('stroke-width', 2.5);
    text(15, 173, '1x', 14.5);
    text(42, 191, '5 s', 14.5);
    text(276, 189, '(iii)', 15.5);

    // D inset
    svg.append('rect').attr('x', 490).attr('y', 77).attr('width', 288).attr('height', 80)
      .attr('fill', 'none').attr('stroke', RED).attr('stroke-width', 1.3);
    const xD3 = d3.scaleLinear().domain([50, 90]).range([512, 775]);
    const yD3 = d3.scaleLinear().domain([0.85, 3.35]).range([130, 90]);
    svg.append('g').selectAll('rect').data(stimStartsD.filter(s => s > 50 && s < 90)).join('rect')
      .attr('x', d => xD3(d)).attr('y', 92).attr('width', d => xD3(d + stimWidthD) - xD3(d)).attr('height', 41)
      .attr('fill', CYAN);
    const lineD3 = d3.line<number[]>().x(d => xD3(d[0])).y(d => yD3(d[1])).curve(d3.curveMonotoneX);
    svg.append('path').attr('d', lineD3(traceD)).attr('fill', 'none').attr('stroke', '#000')
      .attr('stroke-width', 1.7).attr('clip-path', clipRect(512, 78, 263, 78));
    svg.append('path').attr('d', 'M509,122 L509,137 L547,137').attr('fill', 'none').attr('stroke', '#000').attr('stroke-width', 2.5);
    text(492, 137, '1x', 14.5);
    text(519, 155, '5 s', 14.5);
    text(742, 153, '(iii)', 15.5);

    // ----- trajectories (i) -----
    const xTA = d3.scaleLinear().domain([0, 1]).range([322, 394]);
    const yTA = d3.scaleLinear().domain([0, 1]).range([205, 133]);
    const lineTA = d3.line<number[]>().x(d => xTA(d[0])).y(d => yTA(d[1])).curve(d3.curveCatmullRom);
    svg.append('path').attr('d', lineTA(pathA_black)).attr('fill', 'none').attr('stroke', '#000').attr('stroke-width', 2.2).attr('stroke-linejoin', 'round');
    svg.append('g').selectAll('circle').data(pathA_black).join('circle')
      .attr('cx', d => xTA(d[0])).attr('cy', d => yTA(d[1])).attr('r', 2.3)
      .attr('fill', 'none').attr('stroke', '#000').attr('stroke-width', 1.1);
    svg.append('path').attr('d', lineTA(pathA_red)).attr('fill', 'none').attr('stroke', '#f01010').attr('stroke-width', 3.2).attr('stroke-linejoin', 'round');
    svg.append('g').selectAll('circle').data(pathA_red.slice(0, 6)).join('circle')
      .attr('cx', d => xTA(d[0])).attr('cy', d => yTA(d[1])).attr('r', 2.4).attr('fill', '#f01010');
    svg.append('line').attr('x1', 340).attr('x2', 412).attr('y1', 164).attr('y2', 164).attr('stroke', '#000').attr('stroke-width', 2.5);
    text(357, 158, '1 mm', 14.5);
    text(351, 66, 'start', 13.5);
    text(323, 88, '(i)', 15.5);
    text(330, 214, 'end', 13.5);

    const xTD = d3.scaleLinear().domain([0, 1]).range([553, 640]);
    const yTD = d3.scaleLinear().domain([0, 1]).range([205, 118]);
    const lineTD = d3.line<number[]>().x(d => xTD(d[0])).y(d => yTD(d[1])).curve(d3.curveCatmullRom);
    svg.append('path').attr('d', lineTD(pathD_black1)).attr('fill', 'none').attr('stroke', '#000').attr('stroke-width', 2.6);
    svg.append('g').selectAll('circle').data(pathD_black1).join('circle')
      .attr('cx', d => xTD(d[0]) + 1.5).attr('cy', d => yTD(d[1])).attr('r', 1.5).attr('fill', '#000');
    svg.append('path').attr('d', lineTD(pathD_red)).attr('fill', 'none').attr('stroke', '#f01010').attr('stroke-width', 2.8);
    svg.append('g').selectAll('circle').data(pathD_red).join('circle')
      .attr('cx', d => xTD(d[0])).attr('cy', d => yTD(d[1]) + 1.5).attr('r', 1.7).attr('fill', '#f01010');
    svg.append('path').attr('d', lineTD(pathD_black2)).attr('fill', 'none').attr('stroke', '#000').attr('stroke-width', 2.6);
    svg.append('line').attr('x1', 492).attr('x2', 579).attr('y1', 231).attr('y2', 231).attr('stroke', '#000').attr('stroke-width', 2.5);
    text(517, 225, '1 mm', 14.5);
    text(443, 65, 'end', 13.5);
    text(416, 86, '(i)', 15.5);
    text(562, 207, 'start', 13.5);

    // ----- connecting arrows -----
    const redLine = (x1: number, y1: number, x2: number, y2: number, arrow: boolean) => {
      const l = svg.append('line').attr('x1', x1).attr('y1', y1).attr('x2', x2).attr('y2', y2)
        .attr('stroke', RED).attr('stroke-width', 1.1);
      if (arrow) l.attr('marker-end', 'url(#arrowRed)');
    };
    redLine(261, 265, 17, 199, true);
    redLine(351, 265, 305, 198, true);
    redLine(485, 270, 489, 167, false);
    redLine(524, 268, 777, 162, true);

    // ----- triggered averages -----
    const tTicks = [-3, -2, -1, 0, 1, 2, 3];
    const panel = (x0: number, yTop: number, yBot: number) => {
      const x = d3.scaleLinear().domain([-3.5, 3.5]).range([x0, x0 + 340]);
      const y = d3.scaleLinear().domain([0.25, 4.5]).range([yBot, yTop]);
      return { x, y };
    };
    const drawLines = (x: any, y: any, times: number[], rows: number[][], color: string, width: number, clip: string) => {
      const ln = d3.line<number>().x((_, i) => x(times[i])).y(d => y(d));
      const g = svg.append('g').attr('clip-path', clip);
      rows.forEach(r => {
        g.append('path').attr('d', ln(r)).attr('fill', 'none').attr('stroke', color)
          .attr('stroke-width', width).attr('stroke-linejoin', 'round');
      });
    };
    const stimRect = (x: any, y: any, span: number[]) => {
      svg.append('rect').attr('x', x(span[0])).attr('y', y.range()[1]).attr('width', x(span[1]) - x(span[0]))
        .attr('height', y.range()[0] - y.range()[1]).attr('fill', CYAN);
    };

    // B
    {
      const { x, y } = panel(36, 467, 604);
      const clip = clipRect(36, 467, 341, 138);
      drawLines(x, y, tHalf, greyB, GREY, 1, clip);
      drawLines(x, y, tQuarter, [meanB], '#000', 5, clip);
      drawAxes(x, y, tTicks, [1, 2, 3, 4]);
      text(39, 470, 'B', 17, { weight: 'bold' });
      yLabel(15, 535, 'ratio/baseline');
    }
    // E
    {
      const { x, y } = panel(435, 467, 604);
      const clip = clipRect(435, 467, 341, 138);
      drawLines(x, y, tHalf, greyE, GREY, 1, clip);
      drawLines(x, y, tQuarter, [meanE], '#000', 5, clip);
      drawAxes(x, y, tTicks, [1, 2, 3, 4]);
      text(437, 470, 'E', 17, { weight: 'bold' });
    }
    // C
    {
      const { x, y } = panel(36, 667, 802);
      const clip = clipRect(36, 667, 341, 136);
      stimRect(x, y, stimC);
      drawLines(x, y, tC, greyC, GREY, 1, clip);
      drawLines(x, y, tC, [meanC], '#000', 5, clip);
      drawAxes(x, y, tTicks, [1, 2, 3, 4]);
      text(39, 670, 'C', 17, { weight: 'bold' });
      yLabel(15, 735, 'ratio/baseline');
      text(206, 837, 'time (s)', 15, { anchor: 'middle', fill: AXIS });
    }
    // F
    {
      const { x, y } = panel(435, 667, 802);
      const clip = clipRect(435, 667, 341, 136);
      stimRect(x, y, stimF);
      drawLines(x, y, tHalf, greyF, GREY, 1, clip);
      drawLines(x, y, tQuarter, [meanF], '#000', 5, clip);
      drawAxes(x, y, tTicks, [1, 2, 3, 4]);
      text(437, 670, 'F', 17, { weight: 'bold' });
      text(605, 837, 'time (s)', 15, { anchor: 'middle', fill: AXIS });
    }

    // dashed separator
    svg.append('line').attr('x1', 32).attr('x2', 766).attr('y1', 843).attr('y2', 843)
      .attr('stroke', '#333').attr('stroke-width', 3).attr('stroke-dasharray', '6 4');

    // G
    {
      const { x, y } = panel(36, 868, 1006);
      const clip = clipRect(36, 868, 341, 138);
      stimRect(x, y, stimG);
      drawLines(x, y, tQuarter, blueG, '#4444f4', 1, clip);
      drawLines(x, y, tQuarter, greyG, GREY, 1, clip);
      drawLines(x, y, tQuarter, [meanBlueG], '#0b1d8e', 5, clip);
      drawLines(x, y, tHalf, [meanDNG], '#000', 5, clip);
      drawAxes(x, y, tTicks, [1, 2, 3, 4]);
      text(39, 871, 'G', 17, { weight: 'bold' });
      yLabel(15, 938, 'ratio/baseline');
      text(206, 1042, 'time (s)', 15, { anchor: 'middle', fill: AXIS });
      text(270, 877, 'putative 5th LN', 17.5, { fill: '#1c1cb8', family: SANS2 });
      text(270, 900, 'putative DN', 17.5, { family: SANS2 });
    }

    // H
    {
      const x = d3.scaleLinear().domain([-0.1, 1]).range([431, 770]);
      const y = d3.scaleLinear().domain([-5, 1.3]).range([1003, 868]);
      const clip = clipRect(431, 868, 340, 136);
      stimRect(x, y, stimH);
      const hx = (i: number) => x(hStart + i * hStep);
      const band = d3.area<number>().x((_, i) => hx(i)).y0(d => y(d - semH)).y1(d => y(d + semH));
      svg.append('path').attr('d', band(meanH)).attr('fill', '#a0a0a0').attr('clip-path', clip);
      const ln = d3.line<number>().x((_, i) => hx(i)).y(d => y(d));
      svg.append('path').attr('d', ln(meanH)).attr('fill', 'none').attr('stroke', '#000').attr('stroke-width', 1.2).attr('clip-path', clip);
      const fit = d3.line<number[]>().x(d => x(d[0])).y(d => y(d[1])).curve(d3.curveMonotoneX);
      svg.append('path').attr('d', fit(fitH)).attr('fill', 'none').attr('stroke', RED).attr('stroke-width', 1.6).attr('clip-path', clip);
      dottedH.forEach(t => {
        svg.append('line').attr('x1', x(t)).attr('x2', x(t)).attr('y1', 873).attr('y2', 1003)
          .attr('stroke', '#000').attr('stroke-width', 1).attr('stroke-dasharray', '1.5 2.5');
      });
      drawAxes(x, y, [0, 0.2, 0.4, 0.6, 0.8, 1], [-4, -2, 0]);
      text(438, 871, 'H', 17, { weight: 'bold' });
      text(503, 871, '130 ms', 14.5);
      text(648, 950, 'τ = 220 ms', 14.5, { fill: RED });
      text(658, 994, 'TIM>ASAP2s', 17, { family: SANS2 });
      yLabel(403, 932, 'Δ ratio/baseline (%)', 15);
      text(600, 1042, 'time (s)', 15, { anchor: 'middle', fill: AXIS });
    }
  }, []);

  return (
    <svg ref={svgRef} width={781} height={1050}
      style={{ position: 'absolute', left: 0, top: 0, background: '#fff', display: 'block' }} />
  );
};

export default App;
